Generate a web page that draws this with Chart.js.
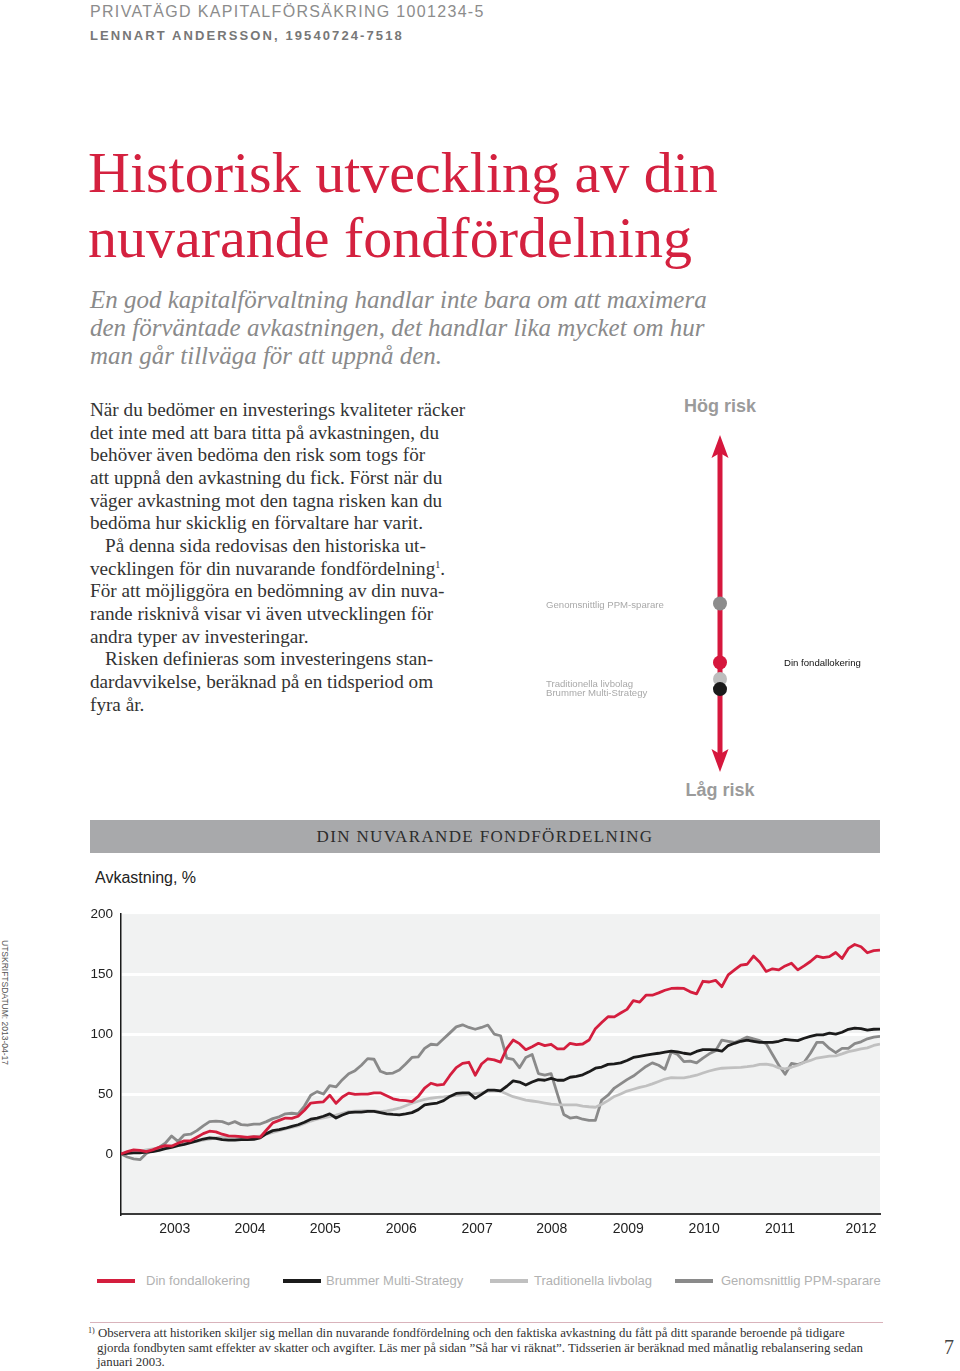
<!DOCTYPE html>
<html lang="sv">
<head>
<meta charset="utf-8">
<title>Historisk utveckling av din nuvarande fondfördelning</title>
<script src="https://cdn.jsdelivr.net/npm/chart.js@4.4.1/dist/chart.umd.min.js"></script>
<style>
  html, body { margin: 0; padding: 0; background: #fff; }
  body { width: 960px; height: 1371px; position: relative; overflow: hidden;
         font-family: "Liberation Sans", Arial, sans-serif; }
  .abs { position: absolute; }
  .serif { font-family: "Liberation Serif", "Times New Roman", serif; }

  #head1 { left: 90px; top: 2px; font-size: 16px; line-height: 20px; letter-spacing: 1.32px; color: #8c8c8c; white-space: nowrap; }
  #head2 { left: 90px; top: 28px; font-size: 13px; line-height: 16px; letter-spacing: 2.1px; font-weight: bold; color: #777; white-space: nowrap; }
  #title { left: 88px; top: 140px; font-size: 58px; line-height: 65px; color: #d4213f; white-space: nowrap; }
  #lead { left: 90px; top: 286px; font-size: 25px; line-height: 28px; font-style: italic; color: #8a8a8a; white-space: nowrap; }
  #body { left: 90px; top: 399px; font-size: 19.2px; line-height: 22.65px; color: #333; white-space: nowrap; }
  #body .ind { padding-left: 15px; }
  #body sup { font-size: 10px; line-height: 0; vertical-align: 7px; }

  .risk-big { left: 620px; width: 200px; text-align: center; font-size: 18px; line-height: 20px; font-weight: bold; color: #9b9b9b; }
  .risk-lbl { font-size: 9.6px; line-height: 10px; color: #a9a9a9; white-space: nowrap; }
  #riskBox { left: 620px; top: 425px; width: 200px; height: 357px; }

  #band { left: 90px; top: 820px; width: 790px; height: 33px; background: #a8a9ab; text-align: center;
          font-size: 17px; line-height: 34px; letter-spacing: 1.35px; color: #2c2c2c; }
  #yTitle { left: 95px; top: 869px; font-size: 16px; line-height: 18px; color: #222; }
  #chartBox { left: 80px; top: 898px; width: 805px; height: 347px; }

  #legend { left: 0; top: 1273px; width: 960px; height: 16px; }
  .leg { position: absolute; top: 0; height: 16px; line-height: 16px; font-size: 13px; color: #b2b2b2; white-space: nowrap; }
  .leg i { position: absolute; left: 0; top: 6px; width: 38px; height: 4px; }
  .leg span { position: absolute; top: 0; }

  #rule { left: 90px; top: 1322px; width: 793px; height: 1px; background: #d9b3bb; }
  #foot { left: 88px; top: 1326px; width: 800px; font-size: 12.85px; line-height: 14.5px; color: #333;
          padding-left: 9px; text-indent: -9px; white-space: nowrap; }
  #foot sup { font-size: 8px; line-height: 0; vertical-align: 4px; }
  #pageNo { left: 944px; top: 1335px; font-size: 20px; line-height: 24px; color: #444; }
  #stamp { left: 0px; top: 940px; writing-mode: vertical-rl; font-size: 8.5px; line-height: 9px; color: #555; white-space: nowrap; }
</style>
</head>
<body>

<div id="head1" class="abs">PRIVATÄGD KAPITALFÖRSÄKRING 1001234-5</div>
<div id="head2" class="abs">LENNART ANDERSSON, 19540724-7518</div>

<div id="title" class="abs serif">Historisk utveckling av din<br>nuvarande fondfördelning</div>
<div id="lead" class="abs serif">En god kapitalförvaltning handlar inte bara om att maximera<br>den förväntade avkastningen, det handlar lika mycket om hur<br>man går tillväga för att uppnå den.</div>

<div id="body" class="abs serif">
När du bedömer en investerings kvaliteter räcker<br>
det inte med att bara titta på avkastningen, du<br>
behöver även bedöma den risk som togs för<br>
att uppnå den avkastning du fick. Först när du<br>
väger avkastning mot den tagna risken kan du<br>
bedöma hur skicklig en förvaltare har varit.<br>
<span class="ind">På denna sida redovisas den historiska ut-</span><br>
vecklingen för din nuvarande fondfördelning<sup>1</sup>.<br>
För att möjliggöra en bedömning av din nuva-<br>
rande risknivå visar vi även utvecklingen för<br>
andra typer av investeringar.<br>
<span class="ind">Risken definieras som investeringens stan-</span><br>
dardavvikelse, beräknad på en tidsperiod om<br>
fyra år.
</div>

<div class="abs risk-big" style="top:396px;">Hög risk</div>
<div class="abs risk-big" style="top:780px;">Låg risk</div>
<div id="riskBox" class="abs"><canvas id="riskChart"></canvas></div>
<div class="abs risk-lbl" style="left:546px; top:600px;">Genomsnittlig PPM-sparare</div>
<div class="abs risk-lbl" style="left:546px; top:679px;">Traditionella livbolag</div>
<div class="abs risk-lbl" style="left:546px; top:688px;">Brummer Multi-Strategy</div>
<div class="abs risk-lbl" style="left:784px; top:658px; color:#111;">Din fondallokering</div>

<div id="band" class="abs serif">DIN NUVARANDE FONDFÖRDELNING</div>
<div id="yTitle" class="abs">Avkastning, %</div>
<div id="chartBox" class="abs"><canvas id="returnChart"></canvas></div>
<div id="legend" class="abs"></div>

<div id="rule" class="abs"></div>
<div id="foot" class="abs serif"><sup>1)</sup> Observera att historiken skiljer sig mellan din nuvarande fondfördelning och den faktiska avkastning du fått på ditt sparande beroende på tidigare<br>gjorda fondbyten samt effekter av skatter och avgifter. Läs mer på sidan ”Så har vi räknat”. Tidsserien är beräknad med månatlig rebalansering sedan<br>januari 2003.</div>
<div id="pageNo" class="abs serif">7</div>
<div id="stamp" class="abs">UTSKRIFTSDATUM: 2013-04-17</div>

<script>
// Series names and colours (legend order)
const seriesNames = ['Din fondallokering', 'Brummer Multi-Strategy', 'Traditionella livbolag', 'Genomsnittlig PPM-sparare'];
const seriesColors = ['#d41e3e', '#1b1b1b', '#c0c0c0', '#8a8a8a'];

// X axis: month index 0 = jan 2003, year labels placed where the report prints them
const yearLabels = ['2003', '2004', '2005', '2006', '2007', '2008', '2009', '2010', '2011', '2012'];
const yearTickPos = [8.5, 20.4, 32.3, 44.3, 56.3, 68.1, 80.2, 92.2, 104.2, 117];
const yTickValues = [0, 50, 100, 150, 200];

// Monthly return, %
const dinFondallokering = [
  0, 2, 3.5, 3, 2, 3.5, 5.5, 7, 6.5, 9, 11, 11,
  14, 17, 19, 18.5, 16.5, 15.2, 15, 14.5, 13.8, 14.5, 14, 20,
  26, 28, 30, 29.7, 31.5, 36.5, 42.5, 43, 43.5, 49, 42.3, 47.5,
  50.8, 49.7, 50, 50, 51, 51, 48.5, 46, 45, 44.5, 43.7, 48,
  55, 59, 57.4, 58, 65.5, 72, 75.5, 76.5, 65.7, 75, 79.4, 78.5,
  76.6, 88, 95, 92, 87, 89.5, 92.3, 90.4, 91.5, 87.6, 87.6, 92.3,
  91.2, 91.7, 95, 104.5, 109.6, 114.5, 114.3, 117.5, 120.6, 127.9, 126.6, 132.4,
  132.4, 134.3, 136.5, 138, 138.3, 138, 135.2, 133.5, 144, 143.4, 144.8, 139.5,
  149.4, 153.5, 157.5, 158.2, 165, 159.8, 152.2, 154.4, 153.5, 156.8, 159, 153.5,
  156.8, 160.5, 165, 163.7, 164.5, 168, 163, 171.4, 174.7, 172.8, 167.8, 169.5,
  170
];
const brummerMultiStrategy = [
  0, 0.5, 1, 1, 1.5, 2, 3, 4.5, 5.5, 7, 8, 9.5,
  11, 12.5, 13.5, 13, 12, 11.5, 11.5, 12, 12, 12.3, 13.5, 17,
  19.5, 20.3, 21.5, 23, 24.4, 26.5, 29, 30, 31.5, 33.5, 30, 32.5,
  34.5, 34.9, 35, 35.5, 35.5, 34.5, 33.5, 33, 32.7, 33.5, 34.5, 37,
  41, 41.8, 42.5, 44.5, 48, 50.5, 51, 51, 46.4, 49.7, 53.3, 53.3,
  52.7, 56.5, 61, 60, 57.5, 60, 62, 61.5, 63, 61.5, 61.5, 64,
  64.8, 66, 68.5, 71.5, 72.5, 74.7, 75.2, 76, 78, 80.5, 81.5, 82.5,
  83.2, 84, 85, 85.7, 85.2, 84, 83.2, 85.5, 87, 87, 86.8, 85.7,
  90.4, 92.3, 94, 95, 94, 93, 93, 93, 94, 95.5, 95, 94.5,
  96.5, 98, 99.4, 99.4, 100.8, 100, 101.5, 104, 105, 104.5, 103.3, 104,
  104.1
];
const traditionellaLivbolag = [
  0, 1, 1.7, 2.5, 3.4, 4.3, 5.2, 6, 7, 8, 8.8, 9.7,
  10.5, 11.5, 12.5, 13.5, 14, 13.8, 13.5, 13.6, 14, 14.4, 14.8, 16.5,
  18, 19.5, 21, 22.2, 23.4, 25.5, 27.5, 29, 30.2, 31.2, 32.5, 34,
  35.4, 35.8, 36, 36.2, 36, 35.4, 36, 37, 38.2, 40.2, 42.3, 44,
  45.6, 46.5, 47.2, 47.6, 48.2, 48.8, 49.3, 49.7, 50.3, 51, 52.3, 52.7,
  52.3, 50, 47.8, 46.4, 45, 44.2, 43.4, 42.5, 41.6, 41.2, 41, 41,
  41, 40, 39.4, 39, 41.5, 44.5, 48, 50, 52.5, 54, 55.5, 56.7,
  58.5, 60.5, 62.5, 63.6, 63.5, 63.5, 64.5, 65.7, 67.5, 69.2, 70.5, 71.5,
  71.8, 72, 72.3, 72.8, 73.5, 74.8, 75, 74, 71.8, 71, 72.3, 74,
  76.3, 78, 80, 80.8, 81.6, 81.8, 83.5, 85.4, 86.5, 87.6, 88.5, 90.5,
  91.7
];
const genomsnittligPpm = [
  0, -2.5, -4, -4.7, 0.5, 3, 5.5, 9, 15, 10.5, 16, 16.5,
  19.5, 23.5, 27, 27.5, 27, 25, 27, 24.5, 24, 25, 25, 27,
  29.5, 31, 33.5, 34, 33.5, 40, 49, 52, 50, 57, 56, 62,
  67, 69.5, 74, 79.5, 79, 69, 67, 67.5, 70, 75, 80.5, 81,
  88, 91.5, 91, 96, 101, 106, 107.7, 105.5, 104, 105.5, 107.5, 100,
  98.6, 80, 79, 72, 80.5, 83, 67, 65.7, 67, 50, 33, 30,
  30.8, 29, 28, 28, 45, 49, 55, 58.5, 62, 65, 69, 73,
  76, 74, 70.6, 85, 83, 77, 77.5, 76, 80, 83.5, 86, 95,
  94, 93, 95, 97.5, 96, 94.5, 92, 83, 74, 66.5, 75.5, 74.5,
  76.5, 84, 93, 93, 88, 84.5, 88, 88, 92, 93.5, 96, 97.5,
  98
];
const seriesValues = [dinFondallokering, brummerMultiStrategy, traditionellaLivbolag, genomsnittligPpm];

// Relative risk (position on the risk arrow, 0 = low, 100 = high)
const riskNames = ['Genomsnittlig PPM-sparare', 'Din fondallokering', 'Traditionella livbolag', 'Brummer Multi-Strategy'];
const riskLevels = [50, 32.5, 27.6, 24.6];
const riskColors = ['#8c8c8c', '#d6173d', '#bdbdbd', '#1a1a1a'];

const sansFont = '"Liberation Sans", Arial, sans-serif';

/**
 * Light grey plot background behind the grid
 */
const plotBackground = {
  id: 'plotBackground',
  beforeDraw(chart) {
    const { ctx, chartArea: a } = chart;
    ctx.save();
    ctx.fillStyle = '#f1f2f2';
    ctx.fillRect(a.left, a.top, a.right - a.left, a.bottom - a.top);
    ctx.restore();
  }
};

/**
 * Double-headed red arrow along the risk scale
 */
const riskArrow = {
  id: 'riskArrow',
  beforeDatasetsDraw(chart) {
    const { ctx, chartArea: a } = chart;
    const cx = chart.scales.x.getPixelForValue(0.5);
    const head = 23, half = 8.5, notch = 18;
    ctx.save();
    ctx.strokeStyle = '#d6173d';
    ctx.fillStyle = '#d6173d';
    ctx.lineWidth = 5;
    ctx.beginPath();
    ctx.moveTo(cx, a.top + notch);
    ctx.lineTo(cx, a.bottom - notch);
    ctx.stroke();
    [[a.top, 1], [a.bottom, -1]].forEach(([tip, dir]) => {
      ctx.beginPath();
      ctx.moveTo(cx, tip);
      ctx.lineTo(cx - half, tip + dir * head);
      ctx.lineTo(cx, tip + dir * notch);
      ctx.lineTo(cx + half, tip + dir * head);
      ctx.closePath();
      ctx.fill();
    });
    ctx.restore();
  }
};

function initReturnChart() {
  const ctx = document.getElementById('returnChart');
  new Chart(ctx, {
    type: 'line',
    data: {
      datasets: seriesNames.map((name, i) => ({
        label: name,
        data: seriesValues[i].map((v, m) => ({ x: m, y: v })),
        borderColor: seriesColors[i],
        backgroundColor: seriesColors[i],
        borderWidth: 2.8,
        pointRadius: 0,
        tension: 0,
        borderJoinStyle: 'round',
        fill: false
      }))
    },
    options: {
      responsive: true,
      maintainAspectRatio: false,
      animation: false,
      layout: { padding: { top: 15, right: 5, left: 0, bottom: 0 } },
      plugins: { legend: { display: false }, tooltip: { enabled: false } },
      scales: {
        x: {
          type: 'linear',
          min: 0,
          max: 120,
          afterFit: (scale) => { scale.height = 31; },
          afterBuildTicks: (scale) => { scale.ticks = yearTickPos.map(v => ({ value: v })); },
          ticks: {
            autoSkip: false,
            maxRotation: 0,
            padding: 7,
            color: '#222',
            font: { family: sansFont, size: 14 },
            callback: (value, index) => yearLabels[index]
          },
          grid: { display: false, drawTicks: false },
          border: { display: true, color: '#3a3a3a', width: 2 }
        },
        y: {
          min: -50,
          max: 200,
          afterFit: (scale) => { scale.width = 41; },
          afterBuildTicks: (scale) => { scale.ticks = [-50, ...yTickValues].map(v => ({ value: v })); },
          ticks: {
            padding: 8,
            color: '#222',
            font: { family: sansFont, size: 13.5 },
            callback: (value) => (value < 0 ? '' : value)
          },
          grid: {
            drawTicks: false,
            lineWidth: 3,
            color: (c) => (c.tick && c.tick.value >= 0 && c.tick.value < 200 ? '#ffffff' : 'rgba(0,0,0,0)')
          },
          border: { display: true, color: '#1a1a1a', width: 1.5 }
        }
      }
    },
    plugins: [plotBackground]
  });
}

function initRiskChart() {
  const ctx = document.getElementById('riskChart');
  new Chart(ctx, {
    type: 'scatter',
    data: {
      datasets: [{
        label: 'Risk',
        data: riskLevels.map(v => ({ x: 0.5, y: v })),
        pointRadius: 7,
        pointBorderWidth: 0,
        pointBackgroundColor: riskColors,
        clip: false
      }]
    },
    options: {
      responsive: true,
      maintainAspectRatio: false,
      animation: false,
      layout: { padding: { top: 10, bottom: 10, left: 0, right: 0 } },
      plugins: { legend: { display: false }, tooltip: { enabled: false } },
      scales: {
        x: { display: false, min: 0, max: 1 },
        y: { display: false, min: 0, max: 100 }
      }
    },
    plugins: [riskArrow]
  });
}

// HTML legend under the chart
function buildLegend() {
  const legend = document.getElementById('legend');
  const itemLeft = [97, 283, 490, 675];
  const textGap = [49, 43, 44, 46];
  seriesNames.forEach((name, i) => {
    const item = document.createElement('div');
    item.className = 'leg';
    item.style.left = itemLeft[i] + 'px';
    item.innerHTML = `<i style="background:${seriesColors[i]}"></i><span style="left:${textGap[i]}px">${name}</span>`;
    legend.appendChild(item);
  });
}

buildLegend();
initReturnChart();
initRiskChart();
</script>
</body>
</html>
